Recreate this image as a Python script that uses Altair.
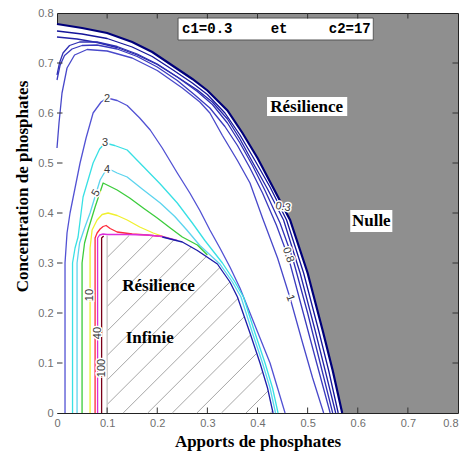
import altair as alt
import numpy as np
import pandas as pd

TICKS = [0, 0.1, 0.2, 0.3, 0.4, 0.5, 0.6, 0.7, 0.8]

# Limit of the zero-resilience zone (grey outside this curve)
edge_x = [0.0, 0.05, 0.10, 0.15, 0.19, 0.23, 0.27, 0.30, 0.34, 0.37, 0.40, 0.43, 0.465, 0.50, 0.53, 0.55, 0.569]
edge_y = [0.778, 0.770, 0.760, 0.742, 0.722, 0.695, 0.668, 0.645, 0.605, 0.56, 0.51, 0.453, 0.386, 0.280, 0.165, 0.085, 0.0]

# Dense band of low-level contours along that limit (0.3 ... 1)
band1_x = [0.0, 0.05, 0.10, 0.15, 0.19, 0.23, 0.27, 0.30, 0.335, 0.365, 0.395, 0.425, 0.458, 0.492, 0.522, 0.542, 0.561]
band1_y = [0.764, 0.758, 0.749, 0.732, 0.713, 0.687, 0.660, 0.637, 0.600, 0.556, 0.505, 0.452, 0.386, 0.280, 0.165, 0.085, 0.0]
band2_x = [0.0, 0.04, 0.08, 0.12, 0.16, 0.20, 0.24, 0.28, 0.31, 0.34, 0.365, 0.39, 0.42, 0.452, 0.485, 0.515, 0.535, 0.556]
band2_y = [0.752, 0.748, 0.741, 0.731, 0.716, 0.697, 0.672, 0.646, 0.622, 0.588, 0.548, 0.502, 0.448, 0.386, 0.28, 0.165, 0.085, 0.0]
band3_x = [0.0, 0.005, 0.012, 0.025, 0.045, 0.08, 0.12, 0.16, 0.20, 0.24, 0.28, 0.31, 0.34, 0.365, 0.39, 0.415, 0.445, 0.47, 0.50, 0.525, 0.55]
band3_y = [0.676, 0.70, 0.72, 0.735, 0.742, 0.742, 0.733, 0.718, 0.698, 0.672, 0.643, 0.617, 0.58, 0.54, 0.495, 0.445, 0.38, 0.31, 0.20, 0.10, 0.0]
band4_x = [0.0, 0.006, 0.015, 0.03, 0.05, 0.08, 0.12, 0.16, 0.20, 0.24, 0.275, 0.305, 0.335, 0.36, 0.385, 0.41, 0.438, 0.462, 0.49, 0.518, 0.545]
band4_y = [0.666, 0.695, 0.715, 0.728, 0.735, 0.736, 0.728, 0.713, 0.692, 0.665, 0.636, 0.61, 0.573, 0.535, 0.49, 0.44, 0.375, 0.31, 0.205, 0.10, 0.0]
band5_x = [0.0, 0.004, 0.01, 0.02, 0.035, 0.06, 0.10, 0.15, 0.20, 0.25, 0.285, 0.305, 0.33, 0.36, 0.385, 0.41, 0.44, 0.465, 0.49, 0.51, 0.532]
band5_y = [0.53, 0.58, 0.64, 0.69, 0.716, 0.727, 0.724, 0.71, 0.685, 0.65, 0.622, 0.60, 0.555, 0.505, 0.46, 0.39, 0.31, 0.23, 0.14, 0.07, 0.0]

# Resilience levels 2, 3, 4, 5, 10, 20, 40, 100
c2_x = [0.016, 0.016, 0.02, 0.026, 0.036, 0.046, 0.058, 0.072, 0.088, 0.10, 0.12, 0.14, 0.165, 0.186, 0.21, 0.24, 0.265, 0.285, 0.305, 0.325, 0.345, 0.365, 0.385, 0.405, 0.425, 0.44, 0.455]
c2_y = [0.0, 0.30, 0.36, 0.40, 0.45, 0.50, 0.55, 0.60, 0.622, 0.63, 0.625, 0.615, 0.59, 0.566, 0.53, 0.48, 0.44, 0.405, 0.366, 0.33, 0.292, 0.25, 0.20, 0.15, 0.10, 0.05, 0.0]
c3_x = [0.031, 0.031, 0.036, 0.042, 0.052, 0.072, 0.085, 0.096, 0.115, 0.14, 0.175, 0.206, 0.24, 0.27, 0.295, 0.33, 0.355, 0.372, 0.395, 0.415, 0.43, 0.441]
c3_y = [0.0, 0.30, 0.33, 0.352, 0.432, 0.50, 0.528, 0.54, 0.535, 0.526, 0.49, 0.458, 0.42, 0.38, 0.345, 0.30, 0.262, 0.232, 0.16, 0.10, 0.05, 0.0]
c4_x = [0.04, 0.04, 0.045, 0.055, 0.066, 0.086, 0.10, 0.12, 0.14, 0.17, 0.206, 0.235, 0.259, 0.285, 0.325, 0.35, 0.367, 0.39, 0.41, 0.425, 0.436]
c4_y = [0.0, 0.30, 0.34, 0.37, 0.40, 0.466, 0.49, 0.48, 0.472, 0.448, 0.42, 0.393, 0.366, 0.335, 0.298, 0.262, 0.232, 0.16, 0.10, 0.05, 0.0]
c5_x = [0.05, 0.05, 0.055, 0.062, 0.076, 0.092, 0.12, 0.145, 0.172, 0.20, 0.226, 0.25, 0.28, 0.30]
c5_y = [0.0, 0.30, 0.34, 0.366, 0.412, 0.46, 0.446, 0.43, 0.41, 0.39, 0.37, 0.352, 0.336, 0.316]
c10_x = [0.066, 0.066, 0.07, 0.08, 0.09, 0.102, 0.12, 0.14, 0.165, 0.192, 0.212, 0.235]
c10_y = [0.0, 0.33, 0.366, 0.386, 0.397, 0.40, 0.395, 0.386, 0.372, 0.36, 0.353, 0.346]
c20_x = [0.076, 0.076, 0.08, 0.086, 0.092, 0.098, 0.106, 0.12, 0.15, 0.18, 0.21]
c20_y = [0.0, 0.35, 0.36, 0.368, 0.373, 0.375, 0.369, 0.362, 0.358, 0.356, 0.353]
c40_x = [0.081, 0.081, 0.085, 0.092, 0.10, 0.14, 0.18, 0.21, 0.24]
c40_y = [0.0, 0.35, 0.356, 0.358, 0.357, 0.357, 0.356, 0.353, 0.345]
c100_x = [0.089, 0.089, 0.093]
c100_y = [0.0, 0.35, 0.354]

# Infinite-resilience zone (hatched): top/right outline, left side at x = 0.1
zone_x = [0.10, 0.16, 0.21, 0.25, 0.28, 0.32, 0.345, 0.36, 0.385, 0.405, 0.42, 0.431]
zone_y = [0.355, 0.355, 0.352, 0.342, 0.325, 0.298, 0.262, 0.232, 0.16, 0.10, 0.05, 0.0]

series = {
    "band1": (band1_x, band1_y), "band2": (band2_x, band2_y), "band3": (band3_x, band3_y),
    "band4": (band4_x, band4_y), "band5": (band5_x, band5_y),
    "c2": (c2_x, c2_y), "c3": (c3_x, c3_y), "c4": (c4_x, c4_y), "c5": (c5_x, c5_y),
    "c10": (c10_x, c10_y), "c20": (c20_x, c20_y), "c40": (c40_x, c40_y), "c100": (c100_x, c100_y),
    "zone_left": ([zone_x[0], zone_x[0]], [0.0, zone_y[0]]),
    "zone_edge": (zone_x[2:], zone_y[2:]),
}
line_colors = {
    "band1": "#15159a", "band2": "#2424a8", "band3": "#3030b4", "band4": "#3a3abe",
    "band5": "#4848ca", "c2": "#5252d4", "c3": "#38e0e4", "c4": "#5cd4ee",
    "c5": "#3ccc3c", "c10": "#f0f030", "c20": "#ff2a3a", "c40": "#dc2edc",
    "c100": "#7a0018", "zone_left": "#c4c4c4", "zone_edge": "#1c1ca8",
}

rows = []
for name, (xs_, ys_) in series.items():
    for i, (xv, yv) in enumerate(zip(xs_, ys_)):
        rows.append({"name": name, "x": xv, "y": yv, "i": i})
lines_df = pd.DataFrame(rows)
edge_df = pd.DataFrame({"x": edge_x, "y": edge_y, "base": [0.0] * len(edge_x), "i": range(len(edge_x))})

# Hatching at 45 degrees, clipped to the infinite-resilience zone
zx = np.array(zone_x)
zy = np.array(zone_y)
fx = np.linspace(zx[0], zx[-1], 4000)
fy = np.interp(fx, zx, zy)
hatch = []
for c in np.arange(-0.26, 0.44, 0.049):
    x0 = max(zx[0], c)
    y0 = x0 - c
    if y0 >= zy[0]:
        continue
    hit = np.where(fy - (fx - c) <= 0)[0]
    if len(hit) == 0:
        continue
    x1 = fx[hit[0]]
    if x1 <= x0:
        continue
    hatch.append({"x": x0, "y": y0, "x2": x1, "y2": x1 - c})
hatch_df = pd.DataFrame(hatch)

# Inward tick marks on the four sides
tick_rows = []
for t in TICKS[1:-1]:
    tick_rows += [
        {"x": t, "x2": t, "y": 0.0, "y2": 0.011},
        {"x": t, "x2": t, "y": 0.789, "y2": 0.8},
        {"x": 0.0, "x2": 0.011, "y": t, "y2": t},
        {"x": 0.789, "x2": 0.8, "y": t, "y2": t},
    ]
ticks_df = pd.DataFrame(tick_rows)

contour_labels = pd.DataFrame({
    "t": ["2", "3", "4", "5", "10", "40", "100", "0.3", "0.8", "1"],
    "x": [0.10, 0.096, 0.10, 0.078, 0.066, 0.082, 0.09, 0.451, 0.461, 0.465],
    "y": [0.628, 0.54, 0.486, 0.44, 0.236, 0.16, 0.09, 0.412, 0.316, 0.23],
    "a": [0, 0, 0, 300, 270, 270, 270, 10, 70, 70],
})

boxes = pd.DataFrame({
    "x": [0.2415, 0.419, 0.585], "x2": [0.631, 0.579, 0.669],
    "y": [0.746, 0.594, 0.362], "y2": [0.79, 0.632, 0.406],
})
param_text = pd.DataFrame({
    "t": ["c1=0.3", "et", "c2=17"],
    "x": [0.2495, 0.443, 0.626], "y": [0.768, 0.768, 0.768],
    "al": ["left", "center", "right"],
})
zone_text = pd.DataFrame({
    "t": ["Résilience", "Nulle", "Résilience", "Infinie"],
    "x": [0.498, 0.627, 0.2026, 0.185],
    "y": [0.6127, 0.384, 0.254, 0.151],
})

XS = alt.Scale(domain=[0, 0.8], nice=False, zero=False)
YS = alt.Scale(domain=[0, 0.8], nice=False, zero=False)

axis_common = dict(
    values=TICKS, format="~g", grid=False, domain=False, ticks=False,
    labelFlush=False, labelOverlap=False,
    labelColor="#6e6e6e", labelFont="Liberation Sans", labelFontSize=11, labelPadding=4,
    titleFont="Liberation Serif", titleFontSize=17, titleFontWeight="bold", titleColor="black",
)

# White area under the limit curve; this layer carries both axes
base_area = alt.Chart(edge_df).mark_area(color="white", opacity=1).encode(
    x=alt.X("x:Q", scale=XS, axis=alt.Axis(
        title="Apports de phosphates", titleY=33, titleBaseline="alphabetic",
        labelAlign={"expr": "datum.value >= 0.8 ? 'right' : 'center'"}, **axis_common)),
    y=alt.Y("y:Q", scale=YS, axis=alt.Axis(
        title="Concentration de phosphates", titleAngle=270, titleX=-30, titleY=173,
        titleAlign="center", titleBaseline="alphabetic", **axis_common)),
    y2="base:Q",
)

hatch_layer = alt.Chart(hatch_df).mark_rule(color="#9c9c9c", strokeWidth=0.9).encode(
    x="x:Q", y="y:Q", x2="x2:Q", y2="y2:Q",
)

names = list(line_colors.keys())
lines_layer = alt.Chart(lines_df).mark_line(strokeWidth=1.3, strokeJoin="round").encode(
    x="x:Q", y="y:Q", detail="name:N", order="i:Q",
    color=alt.Color("name:N", scale=alt.Scale(domain=names, range=[line_colors[n] for n in names]), legend=None),
)

edge_layer = alt.Chart(edge_df).mark_line(color="#00007a", strokeWidth=2.2).encode(
    x="x:Q", y="y:Q", order="i:Q",
)

ticks_layer = alt.Chart(ticks_df).mark_rule(color="#333333", strokeWidth=1).encode(
    x="x:Q", y="y:Q", x2="x2:Q", y2="y2:Q",
)

label_enc = dict(x="x:Q", y="y:Q", text="t:N", angle=alt.Angle("a:Q", scale=None))
label_halo = alt.Chart(contour_labels).mark_text(
    font="Liberation Sans", fontSize=11, color="white", stroke="white", strokeWidth=3,
    baseline="middle").encode(**label_enc)
label_text = alt.Chart(contour_labels).mark_text(
    font="Liberation Sans", fontSize=11, color="#3a3a3a", baseline="middle").encode(**label_enc)

box_layer = alt.Chart(boxes).mark_rect(fill="white").encode(
    x="x:Q", y="y:Q", x2="x2:Q", y2="y2:Q",
)
param_box = alt.Chart(boxes.iloc[[0]]).mark_rect(fill="white", stroke="#555555", strokeWidth=1).encode(
    x="x:Q", y="y:Q", x2="x2:Q", y2="y2:Q",
)

param_layers = []
for al in ["left", "center", "right"]:
    param_layers.append(
        alt.Chart(param_text[param_text["al"] == al]).mark_text(
            font="Liberation Mono", fontSize=14, fontWeight="bold", color="black",
            align=al, baseline="middle").encode(x="x:Q", y="y:Q", text="t:N")
    )

zone_layer = alt.Chart(zone_text).mark_text(
    font="Liberation Serif", fontSize=17, fontWeight="bold", color="black", baseline="middle").encode(
    x="x:Q", y="y:Q", text="t:N")

chart = alt.layer(
    base_area, hatch_layer, lines_layer, edge_layer, label_halo, label_text,
    box_layer, param_box, *param_layers, zone_layer, ticks_layer,
).properties(
    width=401, height=400, autosize="none",
    padding={"left": 57, "top": 13, "right": 2, "bottom": 38},
    background="white",
).configure_view(
    fill="#8f8f8f", stroke="#222222", strokeWidth=1,
)

chart.save("out.html", embed_options={"renderer": "svg", "actions": False})
